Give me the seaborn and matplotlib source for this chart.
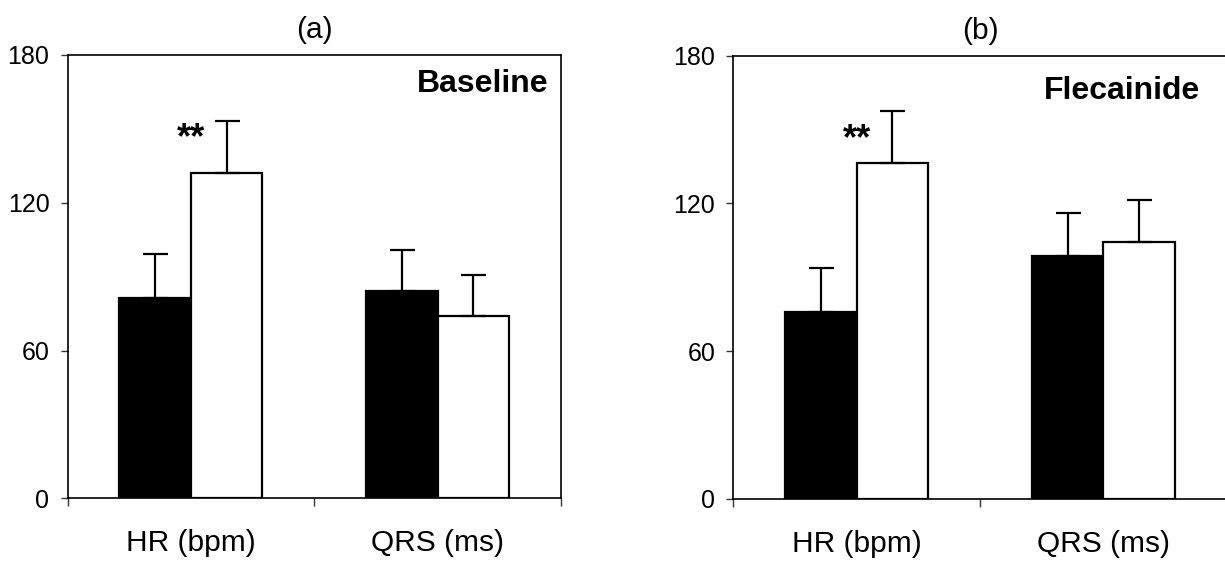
import matplotlib
matplotlib.use("Agg")
import matplotlib.pyplot as plt
import seaborn as sns
import pandas as pd
import numpy as np

# ---- data ----
measures = ["HR (bpm)", "QRS (ms)"]
groups = ["Group 1", "Group 2"]          # black bars, white bars
panel_titles = ["(a)", "(b)"]
panel_labels = ["Baseline", "Flecainide"]

baseline_means = [[81.2, 131.9], [84.3, 74.0]]   # [measure][group]
baseline_sd = [[17.9, 21.2], [16.5, 16.6]]
flecainide_means = [[76.0, 136.5], [98.8, 104.2]]
flecainide_sd = [[17.7, 21.0], [17.2, 17.2]]

y_ticks = [0, 60, 120, 180]
signif_label = "**"
signif_y = 146

sns.set_style("white")
plt.rcParams["font.family"] = ["Liberation Sans", "DejaVu Sans"]
plt.rcParams["text.color"] = "black"
plt.rcParams["xtick.color"] = "black"
plt.rcParams["ytick.color"] = "black"

fig = plt.figure(figsize=(12.25, 5.63), dpi=100)
ax_a = fig.add_axes([67.5 / 1225, 1 - 498.3 / 563, 493.5 / 1225, 443.3 / 563])
ax_b = fig.add_axes([733.3 / 1225, 1 - 499 / 563, 493.5 / 1225, 443.3 / 563])

panels = [
    (ax_a, baseline_means, baseline_sd, panel_titles[0], panel_labels[0], 0.975, 0.935),
    (ax_b, flecainide_means, flecainide_sd, panel_titles[1], panel_labels[1], 0.945, 0.92),
]

for ax, means, sds, title, label, lx, ly in panels:
    rows = []
    for i, m in enumerate(measures):
        for j, g in enumerate(groups):
            rows.append({"measure": m, "group": g, "value": means[i][j], "sd": sds[i][j]})
    df = pd.DataFrame(rows)
    sns.barplot(data=df, x="measure", y="value", hue="group", order=measures,
                hue_order=groups, palette=["black", "white"], edgecolor="black",
                linewidth=1.6, width=0.58, errorbar=None, legend=False, ax=ax,
                saturation=1)
    # error bars (upper only), positioned from the bar patches
    bars = [p for p in ax.patches if p.get_height() > 0]
    bars = sorted(bars, key=lambda p: p.get_x())
    ordered = df.sort_values(["measure", "group"]).reset_index(drop=True)
    for p, (_, r) in zip(bars, ordered.iterrows()):
        xc = p.get_x() + p.get_width() / 2
        ax.errorbar(xc, r["value"], yerr=[[0], [r["sd"]]], fmt="none",
                    ecolor="black", elinewidth=1.6, capsize=9, capthick=1.6, zorder=1)
    ax.set_xlim(-0.5, 1.5)
    ax.set_ylim(0, 180)
    ax.set_yticks(y_ticks)
    ax.set_xticks([0, 1])
    ax.set_xticklabels(measures)
    ax.set_xticks([-0.5, 0.5, 1.5], minor=True)
    ax.tick_params(axis="x", which="major", length=0, pad=22, labelsize=21.5)
    ax.tick_params(axis="x", which="minor", length=6, width=1, color="#333333",
                   direction="out", bottom=True)
    ax.tick_params(axis="y", which="major", length=5, width=1, color="#333333",
                   direction="out", left=True, pad=8, labelsize=18)
    ax.set_xlabel("")
    ax.set_ylabel("")
    for s in ax.spines.values():
        s.set_visible(True)
        s.set_color("black")
        s.set_linewidth(1.2)
    ax.set_title(title, fontsize=21.5, pad=12)
    ax.text(lx, ly, label, transform=ax.transAxes, ha="right", va="center",
            fontsize=23, fontweight="bold")
    ax.text(0, signif_y, signif_label, ha="center", va="center", fontsize=26,
            fontweight="bold")

fig.savefig("out.png", dpi=100)
